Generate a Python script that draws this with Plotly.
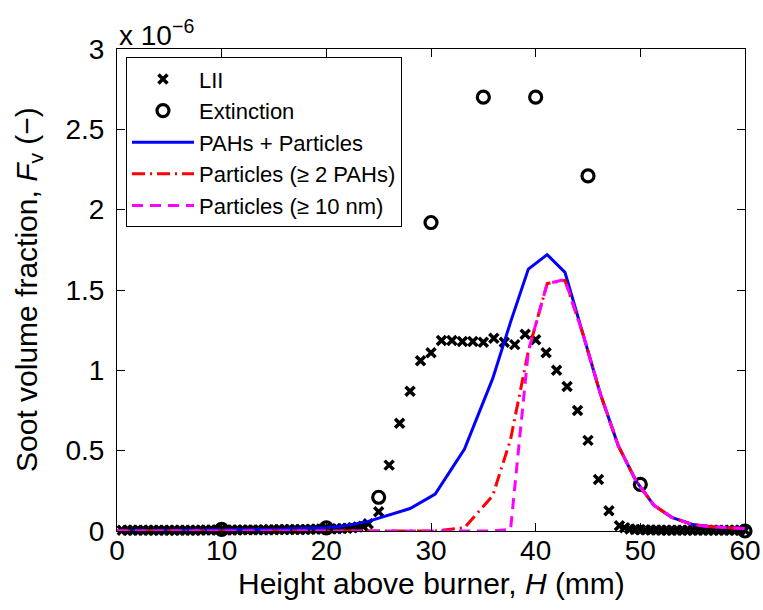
import plotly.graph_objects as go

# ---------------- data (Fv in units of 1e-6) ----------------
lii_h = [0.5, 1.0, 1.5, 2.0, 2.5, 3.0, 3.5, 4.0, 4.5, 5.0, 5.5, 6.0, 6.5, 7.0, 7.5, 8.0,
         8.5, 9.0, 9.5, 10.0, 10.5, 11.0, 11.5, 12.0, 12.5, 13.0, 13.5, 14.0, 14.5, 15.0,
         15.5, 16.0, 16.5, 17.0, 17.5, 18.0, 18.5, 19.0, 19.5, 20.0, 20.5, 21.0, 21.5, 22.0,
         22.5, 23.0, 23.5, 24.0, 25, 26, 27, 28, 29, 30, 31, 32, 33, 34, 35, 36, 37, 38, 39,
         40, 41, 42, 43, 44, 45, 46, 47, 48, 48.5, 49.0, 49.5, 50.0, 50.5, 51.0, 51.5, 52.0,
         52.5, 53.0, 53.5, 54.0, 54.5, 55.0, 55.5, 56.0, 56.5, 57.0, 57.5, 58.0, 58.5, 59.0,
         59.5, 60.0]
lii_fv = [0.004, 0.004, 0.004, 0.004, 0.004, 0.004, 0.004, 0.005, 0.005, 0.005, 0.005, 0.005,
          0.005, 0.005, 0.005, 0.005, 0.006, 0.006, 0.006, 0.006, 0.006, 0.006, 0.006, 0.007,
          0.007, 0.007, 0.007, 0.008, 0.008, 0.008, 0.009, 0.009, 0.009, 0.01, 0.01, 0.01,
          0.011, 0.011, 0.012, 0.012, 0.013, 0.014, 0.015, 0.017, 0.02, 0.025, 0.03, 0.045,
          0.12, 0.41, 0.67, 0.87, 1.06, 1.11, 1.185, 1.185, 1.18, 1.18, 1.175, 1.20, 1.175,
          1.16, 1.225, 1.19, 1.11, 1.0, 0.90, 0.75, 0.564, 0.32, 0.126, 0.033, 0.02, 0.012,
          0.009, 0.008, 0.007, 0.006, 0.006, 0.005, 0.005, 0.005, 0.005, 0.005, 0.004, 0.004,
          0.004, 0.004, 0.004, 0.004, 0.004, 0.004, 0.004, 0.004, 0.004, 0.004]

ext_h = [10, 20, 25, 30, 35, 40, 45, 50, 55, 60]
ext_fv = [0.01, 0.02, 0.21, 1.92, 2.70, 2.70, 2.21, 0.29, -0.01, 0.0]

sim_h = [0, 5, 10, 15, 20, 22, 24, 26, 28, 30.4, 33.2, 35.9, 37.6, 39.3, 41.1, 42.8,
         44.5, 46.2, 47.9, 49.6, 51.3, 53.0, 55.0, 57.0, 60.0]
pahs_particles = [0, 0.002, 0.005, 0.01, 0.02, 0.035, 0.06, 0.1, 0.14, 0.23, 0.51, 0.95,
                  1.30, 1.63, 1.72, 1.61, 1.23, 0.85, 0.53, 0.31, 0.16, 0.085, 0.04, 0.025, 0.016]
particles_2pahs = [0, 0, 0, 0, 0, 0, 0, 0, 0, 0.0, 0.02, 0.22,
                   0.57, 1.12, 1.54, 1.56, 1.23, 0.85, 0.53, 0.31, 0.16, 0.085, 0.04, 0.025, 0.016]
particles_10nm = [0, 0, 0, 0, 0, 0, 0, 0, 0, 0, 0, 0.0,
                  0.01, 1.12, 1.54, 1.565, 1.23, 0.85, 0.53, 0.31, 0.16, 0.085, 0.04, 0.025, 0.016]

x_ticks = [0, 10, 20, 30, 40, 50, 60]
y_ticks = [0, 0.5, 1, 1.5, 2, 2.5, 3]
y_tick_text = ["0", "0.5", "1", "1.5", "2", "2.5", "3"]

FONT = "Liberation Sans, Arial, Helvetica, sans-serif"

fig = go.Figure()
fig.add_trace(go.Scatter(x=lii_h, y=lii_fv, mode="markers", name="LII",
                         marker=dict(symbol="x-thin", size=9, color="black",
                                     line=dict(color="black", width=3.5)),
                         cliponaxis=False))
fig.add_trace(go.Scatter(x=ext_h, y=ext_fv, mode="markers", name="Extinction",
                         marker=dict(symbol="circle-open", size=12, color="black",
                                     line=dict(color="black", width=3.2)),
                         cliponaxis=False))
fig.add_trace(go.Scatter(x=sim_h, y=pahs_particles, mode="lines", name="PAHs + Particles",
                         line=dict(color="#0000ff", width=3), cliponaxis=False))
fig.add_trace(go.Scatter(x=sim_h, y=particles_2pahs, mode="lines", name="Particles (≥ 2 PAHs)",
                         line=dict(color="#ff0000", width=3, dash="13px,5px,2px,5px"),
                         cliponaxis=False))
fig.add_trace(go.Scatter(x=sim_h, y=particles_10nm, mode="lines", name="Particles (≥ 10 nm)",
                         line=dict(color="#ff00ff", width=3, dash="11px,7px"),
                         cliponaxis=False))

axis_common = dict(showline=True, linecolor="black", linewidth=1, mirror="ticks",
                   ticks="inside", ticklen=8, tickwidth=1, tickcolor="black",
                   showgrid=False, zeroline=False, automargin=False,
                   tickfont=dict(family=FONT, size=28, color="black"))

fig.update_xaxes(range=[0, 60], tickvals=x_ticks, ticklabelstandoff=-6, **axis_common)
fig.update_yaxes(range=[0, 3], tickvals=y_ticks, ticktext=y_tick_text,
                 ticklabelstandoff=6, **axis_common)

fig.update_layout(
    width=763, height=610,
    margin=dict(l=117, r=18, t=49, b=79, autoexpand=False),
    plot_bgcolor="white", paper_bgcolor="white",
    font=dict(family=FONT, color="black"),
    showlegend=True,
    legend=dict(x=0.0143, y=0.983, xanchor="left", yanchor="top",
                bgcolor="white", bordercolor="black", borderwidth=1,
                font=dict(family=FONT, size=22, color="black"),
                tracegroupgap=0, itemwidth=62),
    annotations=[
        dict(text="x 10<sup>−6</sup>", xref="paper", yref="paper", x=0, y=1,
             xanchor="left", yanchor="bottom", showarrow=False, yshift=-4,
             font=dict(family=FONT, size=28, color="black")),
        dict(text="Height above burner, <i>H</i> (mm)", xref="paper", yref="paper",
             x=0.5, y=0, xanchor="center", yanchor="middle", yshift=-52, showarrow=False,
             font=dict(family=FONT, size=30, color="black")),
        dict(text="Soot volume fraction, <i>F</i><sub>v</sub> (−)", xref="paper", yref="paper",
             x=0, y=0.5, xanchor="center", yanchor="middle", xshift=-89, textangle=-90,
             showarrow=False, font=dict(family=FONT, size=30, color="black")),
    ],
)

fig.write_html("out.html")
